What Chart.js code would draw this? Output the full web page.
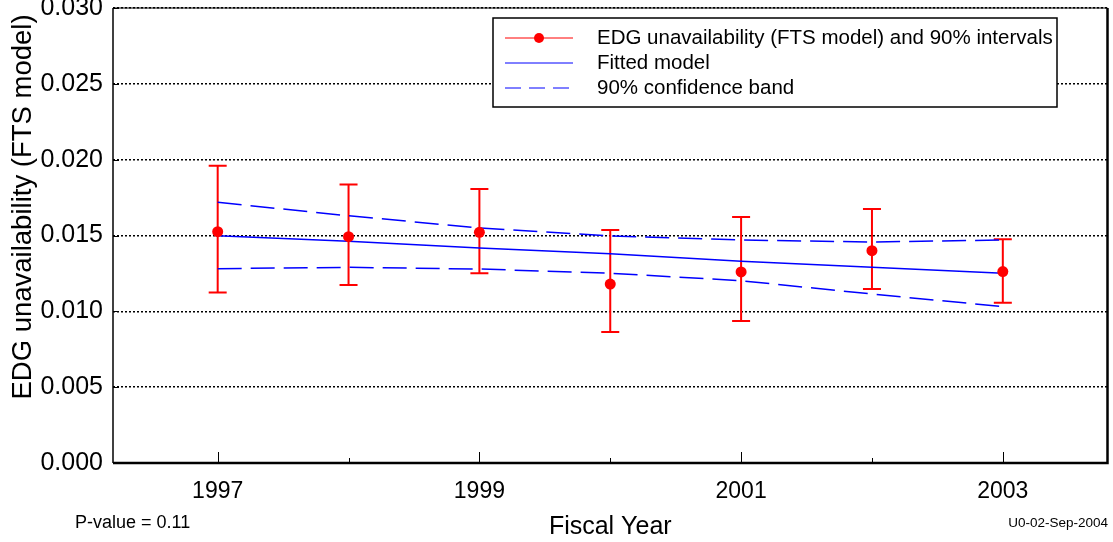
<!DOCTYPE html>
<html>
<head>
<meta charset="utf-8">
<script src="https://cdn.jsdelivr.net/npm/chart.js@4/dist/chart.umd.min.js"></script>
<style>
  html, body { margin: 0; padding: 0; background: #fff; }
  #wrap { width: 1113px; height: 542px; position: relative; }
</style>
</head>
<body>
<div id="wrap"><canvas id="edgChart"></canvas></div>
<script>
// values
const years = [1997, 1998, 1999, 2000, 2001, 2002, 2003];
const unavail = [0.01525, 0.01492, 0.01521, 0.0118, 0.0126, 0.0140, 0.01262];
const lower90 = [0.01125, 0.01174, 0.01251, 0.00864, 0.00936, 0.01147, 0.01057];
const upper90 = [0.0196, 0.01837, 0.01807, 0.01536, 0.01622, 0.01675, 0.01475];
const fitted = [0.01499, 0.01462, 0.01418, 0.0138, 0.0133, 0.0129, 0.01251];
const bandUpper = [0.01719, 0.0163, 0.0155, 0.01497, 0.0147, 0.01457, 0.0147];
const bandLower = [0.01281, 0.0129, 0.01279, 0.01251, 0.01202, 0.01114, 0.01031];
const xLabelYears = [1997, 1999, 2001, 2003];

const FONT = "'Liberation Sans', Arial, sans-serif";
const RED = '#ff0000';
const BLUE = '#0000ff';

const toPoints = arr => years.map((yr, i) => ({ x: yr, y: arr[i] }));

const overlayPlugin = {
    id: 'overlay',
    beforeDatasetsDraw(chart) {
        const { ctx, scales: { x, y } } = chart;
        // error bars
        ctx.save();
        ctx.strokeStyle = RED;
        ctx.lineWidth = 2;
        years.forEach((yr, i) => {
            const px = x.getPixelForValue(yr);
            const top = y.getPixelForValue(upper90[i]);
            const bot = y.getPixelForValue(lower90[i]);
            ctx.beginPath();
            ctx.moveTo(px, top); ctx.lineTo(px, bot);
            ctx.moveTo(px - 9, top); ctx.lineTo(px + 9, top);
            ctx.moveTo(px - 9, bot); ctx.lineTo(px + 9, bot);
            ctx.stroke();
        });
        ctx.restore();
    },
    afterDraw(chart) {
        const { ctx, chartArea: a, scales: { x, y } } = chart;
        ctx.save();
        // frame
        ctx.strokeStyle = '#000';
        ctx.lineWidth = 1;
        ctx.beginPath();
        ctx.moveTo(a.left, a.top); ctx.lineTo(a.right, a.top);
        ctx.stroke();
        ctx.lineWidth = 1.5;
        ctx.beginPath();
        ctx.moveTo(a.left, a.top); ctx.lineTo(a.left, a.bottom);
        ctx.stroke();
        ctx.lineWidth = 2.5;
        ctx.beginPath();
        ctx.moveTo(a.left, a.bottom); ctx.lineTo(a.right, a.bottom); ctx.lineTo(a.right, a.top);
        ctx.stroke();

        // inward tick marks
        ctx.lineWidth = 1;
        years.forEach(yr => {
            const px = Math.round(x.getPixelForValue(yr)) + 0.5;
            const len = xLabelYears.includes(yr) ? 11 : 5;
            ctx.beginPath();
            ctx.moveTo(px, a.bottom); ctx.lineTo(px, a.bottom - len);
            ctx.stroke();
        });
        y.ticks.forEach(t => {
            const py = Math.round(y.getPixelForValue(t.value)) + 0.5;
            ctx.beginPath();
            ctx.moveTo(a.left, py); ctx.lineTo(a.left + 6, py);
            ctx.stroke();
        });

        // legend
        const lx = 493, ly = 18, lw = 564, lh = 89;
        ctx.fillStyle = '#fff';
        ctx.fillRect(lx, ly, lw, lh);
        ctx.lineWidth = 1.5;
        ctx.strokeStyle = '#000';
        ctx.strokeRect(lx, ly, lw, lh);
        const rows = [38, 63, 88];
        ctx.lineWidth = 1;
        ctx.strokeStyle = RED;
        ctx.beginPath(); ctx.moveTo(505, rows[0]); ctx.lineTo(573, rows[0]); ctx.stroke();
        ctx.fillStyle = RED;
        ctx.beginPath(); ctx.arc(539, rows[0], 5, 0, Math.PI * 2); ctx.fill();
        ctx.strokeStyle = BLUE;
        ctx.beginPath(); ctx.moveTo(505, rows[1]); ctx.lineTo(573, rows[1]); ctx.stroke();
        ctx.setLineDash([16, 8]);
        ctx.beginPath(); ctx.moveTo(505, rows[2]); ctx.lineTo(573, rows[2]); ctx.stroke();
        ctx.setLineDash([]);
        ctx.fillStyle = '#000';
        ctx.font = '20.5px ' + FONT;
        ctx.textBaseline = 'middle';
        ctx.textAlign = 'left';
        ctx.fillText('EDG unavailability (FTS model) and 90% intervals', 597, rows[0]);
        ctx.fillText('Fitted model', 597, rows[1]);
        ctx.fillText('90% confidence band', 597, rows[2]);

        // y axis title
        ctx.save();
        ctx.translate(23, 207);
        ctx.rotate(-Math.PI / 2);
        ctx.textAlign = 'center';
        ctx.font = '27.5px ' + FONT;
        ctx.fillText('EDG unavailability (FTS model)', 0, 0);
        ctx.restore();

        // footnotes
        ctx.font = '18px ' + FONT;
        ctx.textAlign = 'left';
        ctx.fillText('P-value = 0.11', 75, 523);
        ctx.font = '13.5px ' + FONT;
        ctx.textAlign = 'right';
        ctx.fillText('U0-02-Sep-2004', 1108, 523);
        ctx.restore();
    }
};

new Chart(document.getElementById('edgChart'), {
    type: 'scatter',
    data: {
        datasets: [
            {
                label: 'EDG unavailability (FTS model) and 90% intervals',
                data: toPoints(unavail),
                pointRadius: 5.5,
                pointBackgroundColor: RED,
                pointBorderWidth: 0,
                showLine: false,
                order: 0
            },
            {
                label: 'Fitted model',
                data: toPoints(fitted),
                showLine: true,
                borderColor: BLUE,
                borderWidth: 1.5,
                pointRadius: 0,
                tension: 0,
                order: 1
            },
            {
                label: '90% confidence band',
                data: toPoints(bandUpper),
                showLine: true,
                borderColor: BLUE,
                borderWidth: 1.5,
                borderDash: [24, 9],
                pointRadius: 0,
                tension: 0,
                order: 2
            },
            {
                label: '90% confidence band (lower)',
                data: toPoints(bandLower),
                showLine: true,
                borderColor: BLUE,
                borderWidth: 1.5,
                borderDash: [24, 9],
                pointRadius: 0,
                tension: 0,
                order: 2
            }
        ]
    },
    options: {
        responsive: true,
        maintainAspectRatio: false,
        animation: false,
        layout: { padding: { left: 0, top: 8, right: 1, bottom: 0 } },
        plugins: {
            legend: { display: false },
            tooltip: { enabled: false }
        },
        scales: {
            x: {
                type: 'linear',
                min: 1996.2,
                max: 2003.8,
                afterBuildTicks: scale => {
                    scale.ticks = xLabelYears.map(v => ({ value: v }));
                },
                afterFit: scale => {
                    scale.height = 79;
                    scale.paddingLeft = 0;
                    scale.paddingRight = 0;
                },
                grid: { display: false, drawTicks: false },
                border: { display: false },
                ticks: {
                    padding: 15,
                    color: '#000',
                    font: { family: FONT, size: 23 },
                    callback: v => String(v)
                },
                title: {
                    display: true,
                    text: 'Fiscal Year',
                    color: '#000',
                    font: { family: FONT, size: 25 },
                    padding: { top: 0, bottom: 0 }
                }
            },
            y: {
                min: 0,
                max: 0.03,
                afterFit: scale => {
                    scale.width = 113;
                    scale.paddingTop = 0;
                    scale.paddingBottom = 0;
                },
                grid: {
                    color: '#000',
                    lineWidth: 1.5,
                    drawTicks: false
                },
                border: { display: false, dash: [2, 2] },
                ticks: {
                    stepSize: 0.005,
                    padding: 10,
                    color: '#000',
                    font: { family: FONT, size: 25 },
                    callback: v => Number(v).toFixed(3)
                }
            }
        }
    },
    plugins: [overlayPlugin]
});
</script>
</body>
</html>
